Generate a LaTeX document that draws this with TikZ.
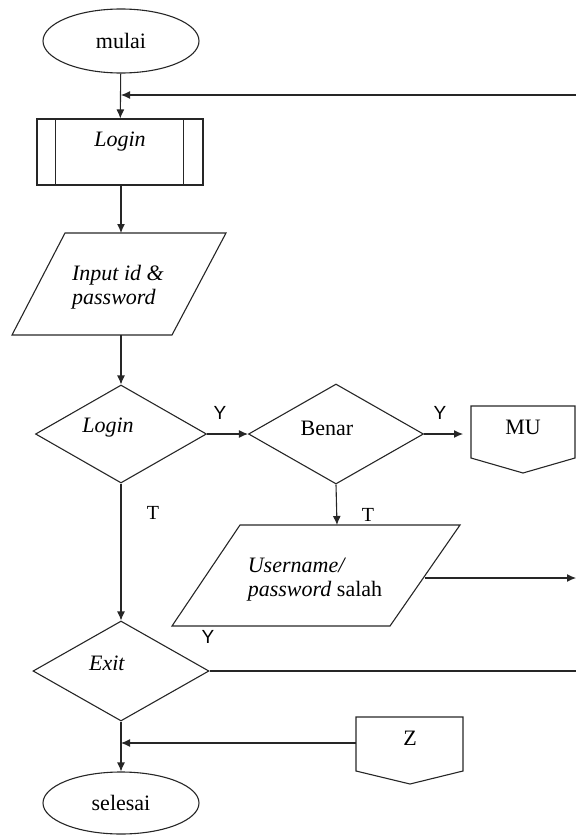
\documentclass[tikz,border=0pt]{standalone}
\usepackage{fontspec}
\setmainfont{Liberation Serif}
\newfontfamily\labfont{Liberation Sans}
\usetikzlibrary{shapes.geometric,arrows.meta,calc}
\begin{document}
\begin{tikzpicture}[x=1bp,y=-1bp,
  every node/.style={font=\fontsize{22bp}{24bp}\selectfont},
  line/.style={draw=black!85,line width=1.1bp},
  arr/.style={line,-{Latex[length=9bp,width=8bp]}},
  term/.style={line,ellipse,minimum width=156bp,inner sep=0},
  decision/.style={line,diamond,inner sep=0},
  txt/.style={inner sep=0},
  tlab/.style={inner sep=0,font=\fontsize{20bp}{24bp}\selectfont},
  ylab/.style={inner sep=0,font=\labfont\fontsize{19bp}{22bp}\selectfont}
]
\useasboundingbox (0,0) rectangle (576,836);

% start
\node[term,minimum height=64bp] (mulai) at (121,41) {mulai};

% predefined process Login
\node[line,rectangle,minimum width=166bp,minimum height=66bp,inner sep=0] (login1) at (120,152) {};
\node[txt] (login1t) at (120,142) {\textit{Login}};
\draw[line] ([xshift=19bp]login1.north west) -- ([xshift=19bp]login1.south west);
\draw[line] ([xshift=-20bp]login1.north east) -- ([xshift=-20bp]login1.south east);

% input id & password
\draw[line] (65,233) -- (226,233) -- (172,335) -- (12,335) -- cycle;
\node[txt,align=left] (inp) at (118,287) {\textit{Input id \&}\\\textit{password}};
\coordinate (inpT) at (121,233);
\coordinate (inpB) at (121,335);

% decision Login
\node[decision,minimum width=171bp,minimum height=98bp] (dlogin) at (121,434) {};
\node[txt] (dlogint) at (108,428) {\textit{Login}};

% decision Benar
\node[decision,minimum width=175bp,minimum height=100bp] (benar) at (336,434) {};
\node[txt] (benart) at (327,428) {Benar};

% off-page MU
\draw[line] (471,406) -- (575,406) -- (575,458) -- (523,473) -- (471,458) -- cycle;
\node[txt] (mu) at (523,427) {MU};
\coordinate (muW) at (471,434);

% Username/password salah
\draw[line] (240,525) -- (460,525) -- (390,626) -- (172,626) -- cycle;
\node[txt,align=left] (uname) at (315,580) {\textit{Username/}\\\textit{password} salah};
\coordinate (unT) at (337,525);
\coordinate (unE) at (425,578);
\coordinate (unR) at (576,578);

% decision Exit
\node[decision,minimum width=176bp,minimum height=100bp] (exit) at (121,671) {};
\node[txt] (exitt) at (107,663) {\textit{Exit}};
\coordinate (exitR) at (576,671);

% off-page Z
\draw[line] (356,717) -- (463,717) -- (463,771) -- (410,784) -- (356,771) -- cycle;
\node[txt] (z) at (410,738) {Z};
\coordinate (zW) at (356,743);

% end
\node[term,minimum height=62bp] (selesai) at (121,803) {selesai};

% return connector
\coordinate (ret) at (576,95);

% labels
\node[ylab] (y1) at (220,413) {Y};
\node[ylab] (y2) at (440,413) {Y};
\node[ylab] (y3) at (208,637) {Y};
\node[tlab] (t1) at (153,513) {T};
\node[tlab] (t2) at (368,515) {T};

% connectors
\draw[arr] (mulai) -- (login1);
\draw[arr] (ret) -- (ret -| mulai.south);
\draw[arr] (login1.south -| inpT) -- (inpT);
\draw[arr] (inpB) -- (dlogin.north);
\draw[arr] (dlogin.east) -- (benar.west);
\draw[arr,shorten >=8bp] (benar.east) -- (muW);
\draw[arr] (benar.south) -- (unT);
\draw[arr] (unE) -- (unR);
\draw[arr] (dlogin.south) -- (exit.north);
\draw[line] (exit.east) -- (exitR);
\draw[arr] (zW) -- (zW -| exit.south);
\draw[arr] (exit.south) -- (selesai.north);
\end{tikzpicture}
\end{document}
